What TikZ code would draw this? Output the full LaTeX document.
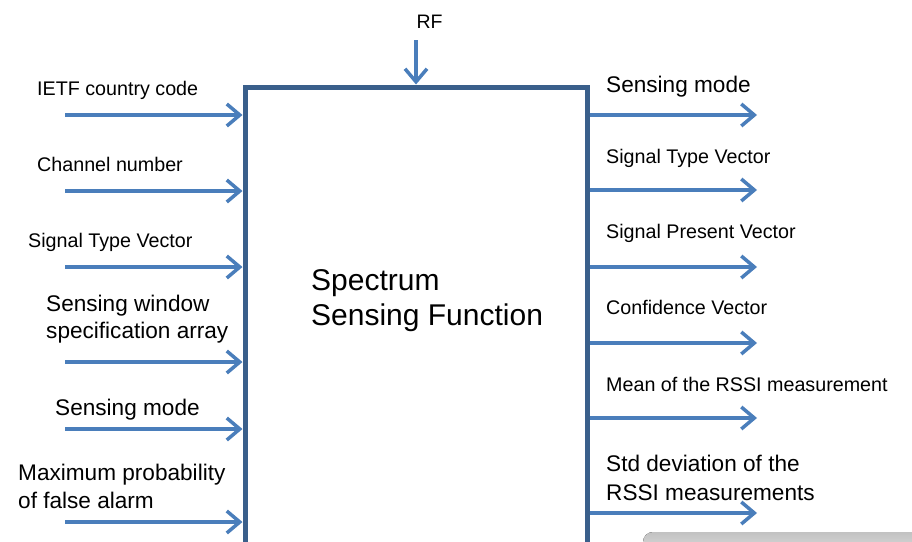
\documentclass[tikz,border=0pt]{standalone}
\usepackage{fontspec}
\setmainfont{Liberation Sans}
\usetikzlibrary{arrows.meta}
\definecolor{boxblue}{HTML}{3A5F8B}
\definecolor{flowblue}{HTML}{4A7EBB}
\begin{document}
\begin{tikzpicture}[x=1pt,y=-1pt,
  flow/.style={draw=flowblue, line width=3.5pt,
    -{Straight Barb[length=13pt,width=22pt]}},
  lbl/.style={anchor=base west, inner sep=0pt, text=black},
  small/.style={lbl, font=\fontsize{19.7}{23}\selectfont},
  medium/.style={lbl, font=\fontsize{22.6}{27}\selectfont},
  large/.style={lbl, font=\fontsize{30}{35}\selectfont}]
\useasboundingbox (0,0) rectangle (912,541);

% faint shaded shape peeking in at the lower right
\fill[top color=black!24, bottom color=black!3, rounded corners=10pt]
  (643,532) rectangle (940,575);

% main function block (continues below the lower edge)
\node[draw=boxblue, line width=5pt, fill=white, minimum width=342pt,
  minimum height=473pt, inner sep=0pt] (box) at (416,323.5) {};

% title inside the block
\node[large] (t1) at (311,290) {Spectrum};
\node[large] (t2) at (311,325) {Sensing Function};

% RF input from above
\node[anchor=base, inner sep=0pt, font=\fontsize{19.5}{23}\selectfont] (rf) at (429.5,28) {RF};
\coordinate (rfs) at (416,40);
\draw[flow] (rfs) -- (rfs |- box.north);

% inputs on the left
\coordinate (i1) at (65,115);
\coordinate (i2) at (65,191);
\coordinate (i3) at (65,267);
\coordinate (i4) at (65,362);
\coordinate (i5) at (65,429);
\coordinate (i6) at (65,522);
\foreach \c in {i1,i2,i3,i4,i5,i6}
  \draw[flow] (\c) -- (\c -| box.west);

\node[small] (l1) at (37,95) {IETF country code};
\node[small] (l2) at (37,171) {Channel number};
\node[small] (l3) at (28,247) {Signal Type Vector};
\node[medium] (l4a) at (46,311) {Sensing window};
\node[medium] (l4b) at (46,338) {specification array};
\node[medium] (l5) at (55,415) {Sensing mode};
\node[medium] (l6a) at (18,480) {Maximum probability};
\node[medium] (l6b) at (18,508) {of false alarm};

% outputs on the right
\coordinate (o1) at (757,115);
\coordinate (o2) at (757,190);
\coordinate (o3) at (757,267);
\coordinate (o4) at (757,343);
\coordinate (o5) at (757,418);
\coordinate (o6) at (757,513);
\foreach \c in {o1,o2,o3,o4,o5,o6}
  \draw[flow] (\c -| box.east) -- (\c);

\node[medium] (r1) at (606,92) {Sensing mode};
\node[small] (r2) at (606,163) {Signal Type Vector};
\node[small] (r3) at (606,238) {Signal Present Vector};
\node[small] (r4) at (606,314) {Confidence Vector};
\node[small] (r5) at (606,391) {Mean of the RSSI measurement};
\node[medium] (r6a) at (606,471) {Std deviation of the};
\node[medium] (r6b) at (606,500) {RSSI measurements};
\end{tikzpicture}
\end{document}
